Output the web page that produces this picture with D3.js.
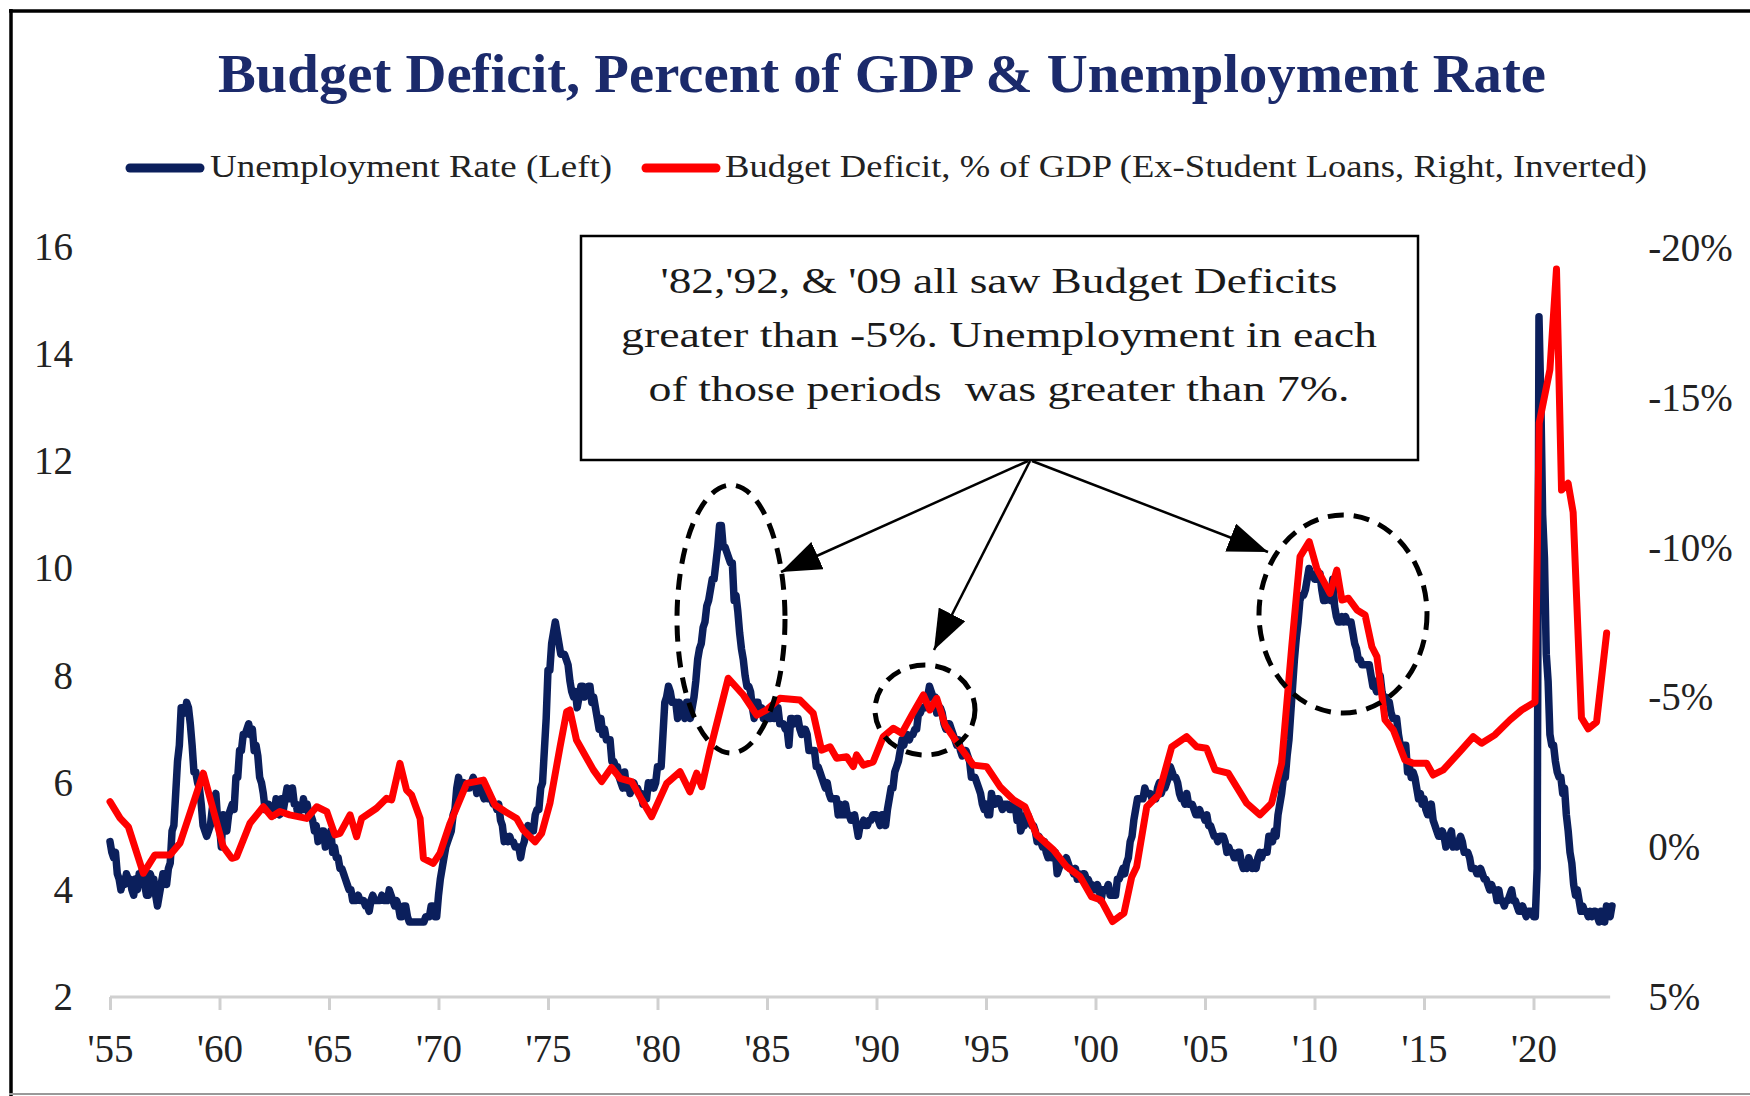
<!DOCTYPE html>
<html>
<head>
<meta charset="utf-8">
<script src="https://cdn.jsdelivr.net/npm/d3@7"></script>
<style>
    body { margin: 0; background: #fff; }
    svg { display: block; font-family: "Liberation Serif", "DejaVu Serif", serif; }
</style>
</head>
<body>
<svg id="chart" width="1750" height="1096"></svg>
<script>
// monthly unemployment rate, Jan 1955 onward
const UNEMP_START = 1955;
const unemployment = [
    4.9, 4.7, 4.6, 4.7, 4.3, 4.2, 4.0, 4.2, 4.1, 4.3, 4.2, 4.2,
    4.0, 3.9, 4.2, 4.0, 4.3, 4.3, 4.4, 4.1, 3.9, 3.9, 4.3, 4.2,
    4.2, 3.9, 3.7, 3.9, 4.1, 4.3, 4.2, 4.1, 4.4, 4.5, 5.1, 5.2,
    5.8, 6.4, 6.7, 7.4, 7.4, 7.3, 7.5, 7.4, 7.1, 6.7, 6.2, 6.2,
    6.0, 5.9, 5.6, 5.2, 5.1, 5.0, 5.1, 5.2, 5.5, 5.7, 5.8, 5.3,
    5.2, 4.8, 5.4, 5.2, 5.1, 5.4, 5.5, 5.6, 5.5, 6.1, 6.1, 6.6,
    6.6, 6.9, 6.9, 7.0, 7.1, 6.9, 7.0, 6.6, 6.7, 6.5, 6.1, 6.0,
    5.8, 5.5, 5.6, 5.6, 5.5, 5.5, 5.4, 5.7, 5.6, 5.4, 5.7, 5.5,
    5.7, 5.9, 5.7, 5.7, 5.9, 5.6, 5.6, 5.4, 5.5, 5.5, 5.7, 5.5,
    5.6, 5.4, 5.4, 5.3, 5.1, 5.2, 4.9, 5.0, 5.1, 5.1, 4.8, 5.0,
    4.9, 5.1, 4.7, 4.8, 4.6, 4.6, 4.4, 4.4, 4.3, 4.2, 4.1, 4.0,
    4.0, 3.8, 3.8, 3.8, 3.9, 3.8, 3.8, 3.8, 3.7, 3.7, 3.6, 3.8,
    3.9, 3.8, 3.8, 3.8, 3.8, 3.9, 3.8, 3.8, 3.8, 4.0, 3.9, 3.8,
    3.7, 3.8, 3.7, 3.5, 3.5, 3.7, 3.7, 3.5, 3.4, 3.4, 3.4, 3.4,
    3.4, 3.4, 3.4, 3.4, 3.4, 3.5, 3.5, 3.5, 3.7, 3.7, 3.5, 3.5,
    3.9, 4.2, 4.4, 4.6, 4.8, 4.9, 5.0, 5.1, 5.4, 5.5, 5.9, 6.1,
    5.9, 5.9, 6.0, 5.9, 5.9, 5.9, 6.0, 6.1, 6.0, 5.8, 6.0, 6.0,
    5.8, 5.7, 5.8, 5.7, 5.7, 5.7, 5.6, 5.6, 5.5, 5.6, 5.3, 5.2,
    4.9, 5.0, 4.9, 5.0, 4.9, 4.9, 4.8, 4.8, 4.8, 4.6, 4.8, 4.9,
    5.1, 5.2, 5.1, 5.1, 5.1, 5.4, 5.5, 5.5, 5.9, 6.0, 6.6, 7.2,
    8.1, 8.1, 8.6, 8.8, 9.0, 8.8, 8.6, 8.4, 8.4, 8.4, 8.3, 8.2,
    7.9, 7.7, 7.6, 7.7, 7.4, 7.6, 7.8, 7.8, 7.6, 7.7, 7.8, 7.8,
    7.5, 7.6, 7.4, 7.2, 7.0, 7.2, 6.9, 7.0, 6.8, 6.8, 6.8, 6.4,
    6.4, 6.3, 6.3, 6.1, 6.0, 5.9, 6.2, 5.9, 6.0, 5.8, 5.9, 6.0,
    5.9, 5.9, 5.8, 5.8, 5.6, 5.7, 5.7, 6.0, 5.9, 6.0, 5.9, 6.0,
    6.3, 6.3, 6.3, 6.9, 7.5, 7.6, 7.8, 7.7, 7.5, 7.5, 7.5, 7.2,
    7.5, 7.4, 7.4, 7.2, 7.5, 7.5, 7.2, 7.4, 7.6, 7.9, 8.3, 8.5,
    8.6, 8.9, 9.0, 9.3, 9.4, 9.6, 9.8, 9.8, 10.1, 10.4, 10.8, 10.8,
    10.4, 10.4, 10.3, 10.2, 10.1, 10.1, 9.4, 9.5, 9.2, 8.8, 8.5, 8.3,
    8.0, 7.8, 7.8, 7.7, 7.4, 7.2, 7.5, 7.5, 7.3, 7.4, 7.2, 7.3,
    7.3, 7.2, 7.2, 7.3, 7.2, 7.4, 7.4, 7.1, 7.1, 7.1, 7.0, 7.0,
    6.7, 7.2, 7.2, 7.1, 7.2, 7.2, 7.0, 6.9, 7.0, 7.0, 6.9, 6.6,
    6.6, 6.6, 6.6, 6.3, 6.3, 6.2, 6.1, 6.0, 5.9, 6.0, 5.8, 5.7,
    5.7, 5.7, 5.7, 5.4, 5.6, 5.4, 5.4, 5.6, 5.4, 5.4, 5.3, 5.3,
    5.4, 5.2, 5.0, 5.2, 5.2, 5.3, 5.2, 5.2, 5.3, 5.3, 5.4, 5.4,
    5.4, 5.3, 5.2, 5.4, 5.4, 5.2, 5.5, 5.7, 5.9, 5.9, 6.2, 6.3,
    6.4, 6.6, 6.8, 6.7, 6.9, 6.9, 6.8, 6.9, 6.9, 7.0, 7.0, 7.3,
    7.3, 7.4, 7.4, 7.4, 7.6, 7.8, 7.7, 7.6, 7.6, 7.3, 7.4, 7.4,
    7.3, 7.1, 7.0, 7.1, 7.1, 7.0, 6.9, 6.8, 6.7, 6.8, 6.6, 6.5,
    6.6, 6.6, 6.5, 6.4, 6.1, 6.1, 6.1, 6.0, 5.9, 5.8, 5.6, 5.5,
    5.6, 5.4, 5.4, 5.8, 5.6, 5.6, 5.7, 5.7, 5.6, 5.5, 5.6, 5.6,
    5.6, 5.5, 5.5, 5.6, 5.6, 5.3, 5.5, 5.1, 5.2, 5.2, 5.4, 5.4,
    5.3, 5.2, 5.2, 5.1, 4.9, 5.0, 4.9, 4.8, 4.9, 4.7, 4.6, 4.7,
    4.6, 4.6, 4.7, 4.3, 4.4, 4.5, 4.5, 4.5, 4.6, 4.5, 4.4, 4.4,
    4.3, 4.4, 4.2, 4.3, 4.2, 4.3, 4.3, 4.2, 4.2, 4.1, 4.1, 4.0,
    4.0, 4.1, 4.0, 3.8, 4.0, 4.0, 4.0, 4.1, 3.9, 3.9, 3.9, 3.9,
    4.2, 4.2, 4.3, 4.4, 4.3, 4.5, 4.6, 4.9, 5.0, 5.3, 5.5, 5.7,
    5.7, 5.7, 5.7, 5.9, 5.8, 5.8, 5.8, 5.7, 5.7, 5.7, 5.9, 6.0,
    5.8, 5.9, 5.9, 6.0, 6.1, 6.3, 6.2, 6.1, 6.1, 6.0, 5.8, 5.7,
    5.7, 5.6, 5.8, 5.6, 5.6, 5.6, 5.5, 5.4, 5.4, 5.5, 5.4, 5.4,
    5.3, 5.4, 5.2, 5.2, 5.1, 5.0, 5.0, 4.9, 5.0, 5.0, 5.0, 4.9,
    4.7, 4.8, 4.7, 4.7, 4.6, 4.6, 4.7, 4.7, 4.5, 4.4, 4.5, 4.4,
    4.6, 4.5, 4.4, 4.5, 4.4, 4.6, 4.7, 4.6, 4.7, 4.7, 4.7, 5.0,
    5.0, 4.9, 5.1, 5.0, 5.4, 5.6, 5.8, 6.1, 6.1, 6.5, 6.8, 7.3,
    7.8, 8.3, 8.7, 9.0, 9.4, 9.5, 9.5, 9.6, 9.8, 10.0, 9.9, 9.9,
    9.8, 9.8, 9.9, 9.9, 9.6, 9.4, 9.4, 9.5, 9.5, 9.4, 9.8, 9.3,
    9.1, 9.0, 9.0, 9.1, 9.0, 9.1, 9.0, 9.0, 9.0, 8.8, 8.6, 8.5,
    8.3, 8.3, 8.2, 8.2, 8.2, 8.2, 8.2, 8.0, 7.8, 7.8, 7.7, 7.9,
    8.0, 7.7, 7.5, 7.6, 7.5, 7.5, 7.3, 7.2, 7.2, 7.2, 6.9, 6.7,
    6.6, 6.7, 6.7, 6.2, 6.3, 6.1, 6.2, 6.1, 5.9, 5.7, 5.8, 5.6,
    5.7, 5.5, 5.4, 5.4, 5.6, 5.3, 5.2, 5.1, 5.0, 5.0, 5.1, 5.0,
    4.8, 4.9, 5.0, 5.1, 4.8, 4.9, 4.8, 4.9, 5.0, 4.9, 4.7, 4.7,
    4.7, 4.6, 4.4, 4.4, 4.4, 4.3, 4.3, 4.4, 4.3, 4.2, 4.2, 4.1,
    4.0, 4.1, 4.0, 4.0, 3.8, 4.0, 3.8, 3.8, 3.7, 3.8, 3.8, 3.9,
    4.0, 3.8, 3.8, 3.7, 3.6, 3.6, 3.7, 3.6, 3.5, 3.6, 3.6, 3.6,
    3.5, 3.5, 4.4, 14.7, 13.2, 11.0, 10.2, 8.4, 7.9, 6.9, 6.7, 6.7,
    6.4, 6.2, 6.1, 6.1, 5.8, 5.9, 5.4, 5.1, 4.7, 4.5, 4.1, 3.9,
    4.0, 3.8, 3.6, 3.7, 3.6, 3.6, 3.5, 3.6, 3.5, 3.6, 3.6, 3.5,
    3.4, 3.6, 3.5, 3.4, 3.7, 3.6, 3.5, 3.7
];

// budget balance, % of GDP (negative = deficit)
const deficitDates = [
    1955.00, 1955.46, 1955.84, 1956.52, 1957.05, 1957.74, 1958.20, 1959.26, 1960.17, 1960.56,
    1960.78, 1961.39, 1962.00, 1962.38, 1962.76, 1963.20, 1963.98, 1964.44, 1964.90, 1965.27,
    1965.50, 1965.96, 1966.26, 1966.49, 1967.17, 1967.63, 1967.86, 1968.24, 1968.54, 1968.77,
    1969.16, 1969.31, 1969.76, 1970.07, 1970.53, 1971.29, 1972.05, 1972.58, 1973.04, 1973.57,
    1973.87, 1974.41, 1974.71, 1975.09, 1975.55, 1975.85, 1976.00, 1976.30, 1977.07, 1977.45,
    1977.90, 1978.29, 1978.82, 1979.28, 1979.73, 1980.42, 1981.03, 1981.48, 1981.79, 1982.02,
    1982.40, 1983.23, 1983.92, 1984.53, 1984.98, 1985.59, 1986.50, 1987.11, 1987.49, 1987.88,
    1988.18, 1988.64, 1988.94, 1989.09, 1989.40, 1989.85, 1990.31, 1990.77, 1991.15, 1991.61,
    1992.14, 1992.44, 1992.75, 1993.13, 1993.81, 1994.42, 1995.03, 1995.64, 1996.25, 1996.78,
    1997.31, 1998.08, 1998.68, 1999.29, 1999.82, 2000.25, 2000.78, 2001.30, 2001.65, 2001.88,
    2002.34, 2002.87, 2003.48, 2004.16, 2004.62, 2005.07, 2005.46, 2006.06, 2006.90, 2007.51,
    2008.04, 2008.50, 2008.96, 2009.34, 2009.76, 2010.10, 2010.71, 2011.02, 2011.25, 2011.55,
    2011.94, 2012.31, 2012.62, 2012.85, 2013.22, 2013.60, 2014.13, 2014.51, 2015.12, 2015.42,
    2015.88, 2016.64, 2017.25, 2017.63, 2018.24, 2018.93, 2019.46, 2020.07, 2020.26, 2020.75,
    2021.05, 2021.28, 2021.58, 2021.81, 2022.19, 2022.50, 2022.88, 2023.34
];
const deficitPct = [
    -1.52, -0.97, -0.68, 0.87, 0.26, 0.26, -0.14, -2.47, -0.02, 0.37,
    0.32, -0.80, -1.35, -1.02, -1.19, -1.08, -0.96, -1.35, -1.19, -0.41,
    -0.46, -1.08, -0.35, -0.96, -1.30, -1.63, -1.58, -2.80, -1.91, -1.74,
    -0.96, 0.37, 0.54, 0.20, -0.80, -2.13, -2.24, -1.41, -1.19, -0.96,
    -0.57, -0.18, -0.46, -1.47, -3.35, -4.52, -4.58, -3.58, -2.58, -2.19,
    -2.66, -2.30, -2.19, -1.58, -1.02, -2.13, -2.52, -1.85, -2.47, -2.02,
    -3.24, -5.64, -5.08, -4.41, -4.58, -4.97, -4.91, -4.47, -3.24, -3.35,
    -2.97, -3.02, -2.69, -3.08, -2.74, -2.85, -3.69, -3.97, -3.80, -4.41,
    -5.08, -4.58, -4.97, -4.08, -3.35, -2.74, -2.69, -2.02, -1.58, -1.35,
    -0.41, 0.09, 0.65, 0.98, 1.65, 1.76, 2.48, 2.20, 1.00, 0.65,
    -1.35, -1.74, -3.35, -3.69, -3.35, -3.30, -2.58, -2.47, -1.47, -1.08,
    -1.47, -2.80, -6.69, -9.70, -10.20, -9.31, -8.47, -9.25, -8.25, -8.31,
    -7.92, -7.75, -6.69, -6.36, -4.25, -3.91, -2.91, -2.80, -2.80, -2.41,
    -2.58, -3.19, -3.69, -3.47, -3.75, -4.25, -4.58, -4.85, -14.16, -15.94,
    -19.30, -11.92, -12.15, -11.18, -4.32, -3.95, -4.18, -7.15
];

const xTickYears = [1955, 1960, 1965, 1970, 1975, 1980, 1985, 1990, 1995, 2000, 2005, 2010, 2015, 2020];
const leftTicks = [2, 4, 6, 8, 10, 12, 14, 16];
const rightTicks = [5, 0, -5, -10, -15, -20];

const titleText = "Budget Deficit, Percent of GDP & Unemployment Rate";
const legendLabels = ["Unemployment Rate (Left)", "Budget Deficit, % of GDP (Ex-Student Loans, Right, Inverted)"];
const noteLines = [
    "'82,'92, & '09 all saw Budget Deficits",
    "greater than -5%. Unemployment in each",
    "of those periods  was greater than 7%."
];

const NAVY = "#0b1f5c";
const RED = "#ff0000";

let svg = d3.select("#chart");

// outer frame
svg.append("line").attr("x1", 9).attr("x2", 1750).attr("y1", 11).attr("y2", 11)
    .attr("stroke", "#000").attr("stroke-width", 3.5);
svg.append("line").attr("x1", 11).attr("x2", 11).attr("y1", 9).attr("y2", 1096)
    .attr("stroke", "#000").attr("stroke-width", 3.5);
svg.append("line").attr("x1", 9).attr("x2", 1750).attr("y1", 1094).attr("y2", 1094)
    .attr("stroke", "#999").attr("stroke-width", 2);

let x = d3.scaleLinear().domain([1955, 2023.5]).range([110, 110 + 68.5 * 21.9]);
let yLeft = d3.scaleLinear().domain([2, 16]).range([997, 247]);
let yRight = d3.scaleLinear().domain([5, -20]).range([997, 248]);

// title
svg.append("text")
    .attr("x", 882).attr("y", 92)
    .attr("text-anchor", "middle")
    .attr("font-size", 54).attr("font-weight", "bold")
    .attr("fill", "#1b2a6b")
    .attr("textLength", 1328).attr("lengthAdjust", "spacingAndGlyphs")
    .text(titleText);

// legend
let legend = [
    {x0: 130, x1: 200, tx: 210, tw: 402, color: NAVY},
    {x0: 646, x1: 716, tx: 725, tw: 922, color: RED}
];
legend.forEach((d, i) => {
    svg.append("line")
        .attr("x1", d.x0).attr("x2", d.x1).attr("y1", 168).attr("y2", 168)
        .attr("stroke", d.color).attr("stroke-width", 9).attr("stroke-linecap", "round");
    svg.append("text")
        .attr("x", d.tx).attr("y", 177)
        .attr("font-size", 32).attr("fill", "#222")
        .attr("textLength", d.tw).attr("lengthAdjust", "spacingAndGlyphs")
        .text(legendLabels[i]);
});

// x axis
let xAxis = svg.append("g")
    .attr("transform", "translate(0,997)")
    .call(d3.axisBottom(x)
        .tickValues(xTickYears)
        .tickSize(13)
        .tickPadding(0)
        .tickFormat(d => "'" + String(d).slice(2)));
xAxis.select(".domain")
    .attr("d", `M${x(1955)},0H${x(2023.5)}`)
    .attr("stroke", "#d0d0d0").attr("stroke-width", 3);
xAxis.selectAll(".tick line").attr("stroke", "#d0d0d0").attr("stroke-width", 3);
xAxis.selectAll(".tick text")
    .attr("y", 65).attr("dy", 0)
    .attr("font-size", 39).attr("font-family", "Liberation Serif").attr("fill", "#222");

// left axis
let leftAxis = svg.append("g")
    .attr("transform", "translate(110,0)")
    .call(d3.axisLeft(yLeft).tickValues(leftTicks).tickSize(0).tickPadding(37));
leftAxis.select(".domain").remove();
leftAxis.selectAll(".tick text")
    .attr("font-size", 39).attr("font-family", "Liberation Serif").attr("fill", "#222");

// right axis (inverted)
let rightAxis = svg.append("g")
    .attr("transform", `translate(${x(2023.5)},0)`)
    .call(d3.axisRight(yRight).tickValues(rightTicks).tickSize(0).tickPadding(38)
        .tickFormat(d => `${d}%`));
rightAxis.select(".domain").remove();
rightAxis.selectAll(".tick text")
    .attr("font-size", 39).attr("font-family", "Liberation Serif").attr("fill", "#222");

// series
let unempLine = d3.line()
    .x((d, i) => x(UNEMP_START + i / 12))
    .y(d => yLeft(d));
svg.append("path")
    .datum(unemployment)
    .attr("fill", "none")
    .attr("stroke", NAVY)
    .attr("stroke-width", 7.5)
    .attr("stroke-linejoin", "round")
    .attr("stroke-linecap", "round")
    .attr("d", unempLine);

let deficitLine = d3.line()
    .x((d, i) => x(deficitDates[i]))
    .y(d => yRight(d));
svg.append("path")
    .datum(deficitPct)
    .attr("fill", "none")
    .attr("stroke", RED)
    .attr("stroke-width", 7)
    .attr("stroke-linejoin", "round")
    .attr("stroke-linecap", "round")
    .attr("d", deficitLine);

// dashed ellipses round the three episodes
let ellipses = [
    {cx: 731, cy: 619, rx: 54, ry: 134},
    {cx: 925, cy: 710, rx: 50, ry: 45},
    {cx: 1343, cy: 614, rx: 84, ry: 99}
];
svg.selectAll(".ring")
    .data(ellipses)
    .enter().append("ellipse")
    .attr("cx", d => d.cx).attr("cy", d => d.cy)
    .attr("rx", d => d.rx).attr("ry", d => d.ry)
    .attr("fill", "none").attr("stroke", "#000")
    .attr("stroke-width", 5).attr("stroke-dasharray", "16,10");

// callout box
svg.append("rect")
    .attr("x", 581).attr("y", 236).attr("width", 837).attr("height", 224)
    .attr("fill", "#fff").attr("stroke", "#000").attr("stroke-width", 2.5);

let noteWidths = [677, 756, 701];
noteLines.forEach((t, i) => {
    svg.append("text")
        .attr("x", 999).attr("y", 293 + i * 54)
        .attr("text-anchor", "middle")
        .attr("font-size", 36).attr("fill", "#1a1a1a")
        .style("white-space", "pre")
        .attr("textLength", noteWidths[i]).attr("lengthAdjust", "spacingAndGlyphs")
        .text(t);
});

// arrows
svg.append("defs").append("marker")
    .attr("id", "head")
    .attr("markerUnits", "userSpaceOnUse")
    .attr("viewBox", "0 0 40 30")
    .attr("refX", 40).attr("refY", 15)
    .attr("markerWidth", 40).attr("markerHeight", 30)
    .attr("orient", "auto")
    .append("path").attr("d", "M0,0L40,15L0,30Z").attr("fill", "#000");

let arrows = [
    {x1: 1028, y1: 461, x2: 781, y2: 572},
    {x1: 1030, y1: 461, x2: 934, y2: 650},
    {x1: 1032, y1: 461, x2: 1268, y2: 552}
];
svg.selectAll(".arrow")
    .data(arrows)
    .enter().append("line")
    .attr("x1", d => d.x1).attr("y1", d => d.y1)
    .attr("x2", d => d.x2).attr("y2", d => d.y2)
    .attr("stroke", "#000").attr("stroke-width", 2.5)
    .attr("marker-end", "url(#head)");
</script>
</body>
</html>
